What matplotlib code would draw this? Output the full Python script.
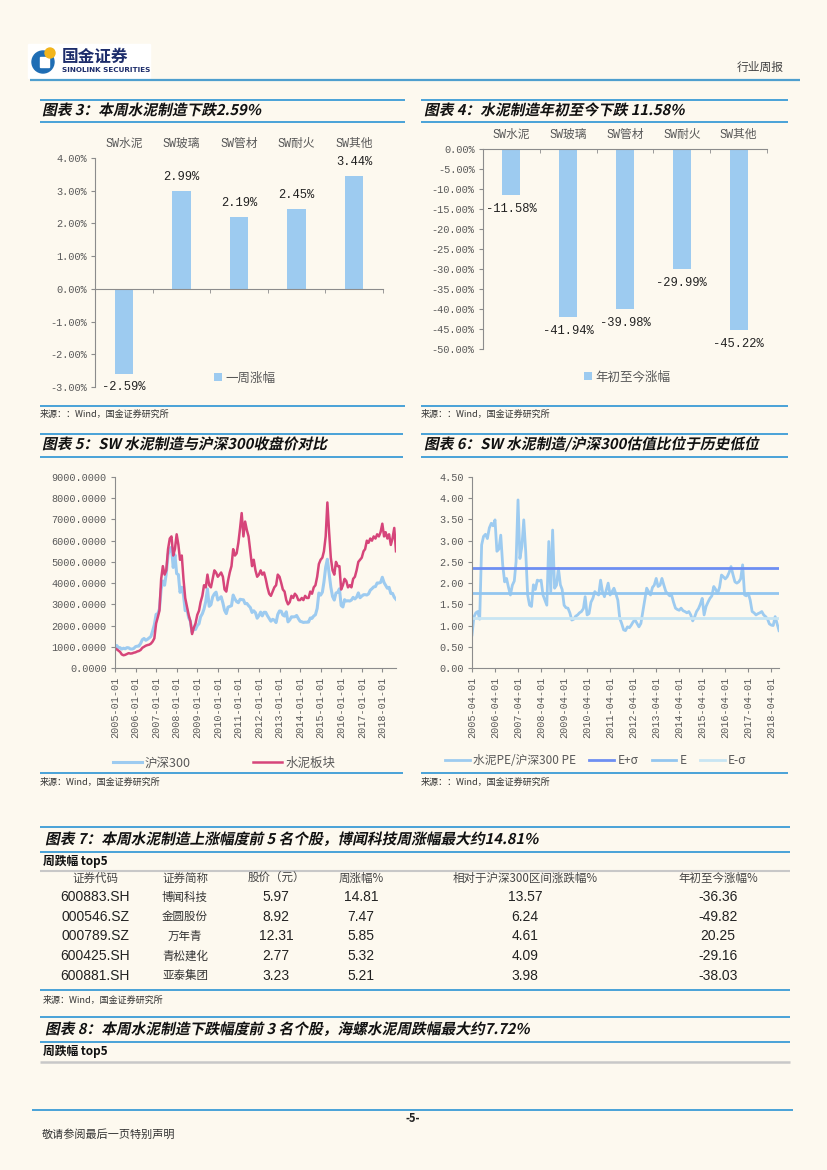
import numpy as np
import pandas as pd
import matplotlib
matplotlib.use('Agg')
import matplotlib.pyplot as plt
import matplotlib.dates as mdates
from matplotlib.ticker import FuncFormatter
from matplotlib.patches import Circle, Rectangle
from matplotlib.patheffects import AbstractPathEffect
from matplotlib.transforms import Affine2D

plt.rcParams['font.family'] = ['Noto Sans CJK SC', 'DejaVu Sans']
plt.rcParams['axes.unicode_minus'] = False

# ---------------- data ----------------
cats = ['SW水泥', 'SW玻璃', 'SW管材', 'SW耐火', 'SW其他']
week_chg = [-2.59, 2.99, 2.19, 2.45, 3.44]
ytd_chg = [-11.58, -41.94, -39.98, -29.99, -45.22]

# 沪深300 / 水泥板块 月度收盘 2005-01 ~ 2018-09
hs300 = [
    982, 1060, 966, 958, 890, 932, 905, 960, 950, 896, 891, 923,
    1007, 1028, 1035, 1156, 1333, 1392, 1305, 1354, 1422, 1486, 1752, 2041,
    2526, 2562, 2782, 3725, 4098, 3901, 4471, 5339, 5612, 5688, 4738, 5338,
    4449, 4399, 3565, 3803, 3447, 2701, 2772, 2374, 2202, 1673, 1869, 1817,
    1991, 2086, 2412, 2556, 2781, 3132, 3726, 2906, 2982, 3347, 3495, 3575,
    3204, 3281, 3359, 3068, 2715, 2564, 2868, 2903, 2936, 3436, 3254, 3128,
    3077, 3239, 3223, 3212, 3030, 3044, 2938, 2851, 2617, 2696, 2606, 2346,
    2464, 2634, 2455, 2626, 2623, 2462, 2333, 2205, 2294, 2254, 2140, 2523,
    2688, 2673, 2495, 2448, 2647, 2172, 2262, 2412, 2409, 2414, 2474, 2331,
    2202, 2178, 2146, 2158, 2157, 2165, 2355, 2339, 2450, 2508, 2808, 3533,
    3434, 3572, 4051, 4749, 5124, 4473, 3817, 3367, 3202, 3534, 3566, 3731,
    2946, 2877, 3218, 3156, 3169, 3154, 3203, 3327, 3253, 3336, 3538, 3310,
    3387, 3452, 3456, 3439, 3492, 3666, 3737, 3822, 3836, 4006, 4006, 4030,
    4275, 4023, 3899, 3756, 3802, 3510, 3517, 3335, 3238]
cement = [
    930, 880, 820, 760, 640, 600, 620, 660, 700, 680, 690, 720,
    740, 780, 800, 850, 950, 1000, 1050, 1080, 1100, 1150, 1250, 1400,
    2100, 2400, 2700, 4200, 4800, 4400, 4600, 5600, 6100, 6200, 5300, 5600,
    6300, 5800, 5100, 5300, 4200, 3300, 2900, 2500, 2200, 1600, 1900, 2100,
    2500, 2700, 3100, 3400, 3900, 3800, 4400, 3900, 3800, 4200, 4600, 4500,
    4300, 4400, 4500, 4300, 3700, 3600, 4100, 4500, 4800, 5600, 5300, 5400,
    5900, 6600, 7300, 6200, 6900, 6500, 6200, 5500, 4800, 5100, 4600, 4300,
    4400, 4600, 4400, 4500, 4200, 3800, 3500, 3400, 3600, 3800, 3900, 4400,
    4300, 4000, 3700, 3600, 3200, 3000, 3100, 3400, 3300, 3500, 3400, 3200,
    3200, 3300, 3200, 3400, 3300, 3300, 3600, 3500, 3800, 3900, 4300, 4900,
    5100, 5200, 5500, 6200, 7800, 6400, 5200, 4600, 4400, 5000, 4800, 4800,
    3700, 3900, 4200, 4100, 3800, 3900, 3800, 4200, 4300, 4600, 5000, 5100,
    5200, 5500, 5600, 6000, 5900, 6100, 6000, 6200, 6100, 6300, 6200, 6400,
    6800, 6200, 6400, 6100, 6300, 5800, 6100, 6600, 5500]

# 水泥PE/沪深300 PE 月度 2005-04 ~ 2018-08
pe_ratio = [
    0.78, 1.20, 1.30, 1.33, 1.15, 2.90, 3.10, 3.15, 3.05,
    3.30, 3.41, 3.35, 3.49, 2.75, 2.80, 3.13, 2.43, 2.03, 2.11, 1.90, 1.72,
    1.95, 2.05, 2.50, 3.96, 2.58, 2.86, 3.49, 2.74, 1.72, 1.48, 1.45, 1.96,
    1.85, 2.07, 2.05, 2.07, 1.72, 1.60, 1.48, 2.98, 1.80, 3.25, 1.88, 1.95,
    2.35, 1.96, 1.85, 1.48, 1.42, 1.41, 1.30, 1.13, 1.15, 1.22, 1.25, 1.30,
    1.33, 1.40, 1.68, 1.25, 1.28, 1.55, 1.64, 1.80, 1.75, 1.72, 2.07, 1.80,
    1.68, 1.85, 2.00, 1.72, 1.80, 1.88, 1.75, 1.60, 1.17, 1.05, 0.90, 0.88,
    0.97, 0.95, 1.01, 1.09, 1.13, 1.05, 0.97, 1.05, 1.33, 1.60, 1.88, 1.80,
    1.72, 1.90, 1.95, 2.11, 1.92, 1.95, 2.11, 1.95, 1.80, 1.75, 1.70, 1.72,
    1.55, 1.41, 1.38, 1.36, 1.41, 1.35, 1.33, 1.30, 1.33, 1.25, 1.11, 1.20,
    1.33, 1.40, 1.50, 1.64, 1.25, 1.45, 1.55, 1.64, 1.70, 1.92, 1.85, 1.76,
    1.90, 2.19, 2.15, 2.10, 2.15, 2.25, 2.39, 2.20, 2.03, 2.00, 2.03, 2.10,
    2.43, 1.72, 1.70, 1.76, 1.60, 1.33, 1.30, 1.25, 1.28, 1.30, 1.33, 1.25,
    1.21, 1.15, 1.04, 1.01, 1.00, 1.21, 1.05, 0.88]
pe_bands = [2.36, 1.77, 1.18]
pe_band_names = ['E+σ', 'E', 'E-σ']

tbl_head = ['证券代码', '证券简称', '股价（元）', '周涨幅%', '相对于沪深300区间涨跌幅%', '年初至今涨幅%']
codes = ['600883.SH', '000546.SZ', '000789.SZ', '600425.SH', '600881.SH']
names = ['博闻科技', '金圆股份', '万年青', '青松建化', '亚泰集团']
prices = [5.97, 8.92, 12.31, 2.77, 3.23]
wk_pct = [14.81, 7.47, 5.85, 5.32, 5.21]
rel_pct = [13.57, 6.24, 4.61, 4.09, 3.98]
ytd_pct = [-36.36, -49.82, 20.25, -29.16, -38.03]

# ---------------- style ----------------
W, H = 827, 1170
BG = '#fdf9ef'
LINE = '#3b9bd6'
BAR = '#9dcbf0'
RED = '#d6457a'
GREY = '#8c8c8c'
TXT = '#595959'
MONO = ['Liberation Mono', 'Noto Sans CJK SC']


class Slant(AbstractPathEffect):
    # 标题的斜体效果
    def __init__(self, deg=12):
        super().__init__()
        self.deg = deg

    def draw_path(self, renderer, gc, tpath, affine, rgbFace=None):
        renderer.draw_path(gc, tpath, Affine2D().skew_deg(self.deg, 0) + affine, rgbFace)


def box(l, t, r, b):
    return [l / W, 1 - b / H, (r - l) / W, (b - t) / H]


fig = plt.figure(figsize=(8.27, 11.7), dpi=100, facecolor=BG)
ov = fig.add_axes([0, 0, 1, 1])
ov.set_xlim(0, W)
ov.set_ylim(H, 0)
ov.axis('off')


def hline(y, x0, x1, c=LINE, lw=1.3):
    ov.plot([x0, x1], [y, y], color=c, lw=lw, solid_capstyle='butt')


def title(x, y, s):
    ov.text(x, y, s, fontsize=10.6, fontweight='bold', color='#111111', va='center',
            path_effects=[Slant(12)])


def source(x, y, s='来源：：Wind，国金证券研究所'):
    ov.text(x, y, s, fontsize=6.5, color='#333333', va='center')


# ---------------- header ----------------
ov.add_patch(Rectangle((28, 44), 122, 34, color='white', zorder=1))
ov.add_patch(Circle((43, 62), 11, color='#1e6db4', zorder=2))
ov.add_patch(Rectangle((40, 57), 9, 10, color='white', zorder=3))
ov.add_patch(Circle((50, 53), 5, color='#f2b51c', zorder=4))
ov.text(62, 57, '国金证券', fontsize=12, fontweight='bold', color='#1d2d6b', va='center', zorder=5)
ov.text(62, 70.5, 'SINOLINK SECURITIES', fontsize=5.2, fontweight='bold', color='#1d2d6b',
        va='center', family=['DejaVu Sans'], zorder=5)
ov.text(760, 67, '行业周报', fontsize=8.5, color='#444444', ha='center', va='center')
hline(80, 30, 800, c='#4f9fce', lw=1.6)

# ---------------- 图表3 / 图表4 ----------------
hline(100, 40, 405)
title(42, 110, '图表 3：本周水泥制造下跌2.59%')
hline(122, 40, 405)
hline(406, 40, 405)
source(40, 414)

hline(100, 421, 788)
title(424, 110, '图表 4：水泥制造年初至今下跌 11.58%')
hline(122, 421, 788)
hline(406, 421, 788)
source(421, 414)


def bar_axes(ax, vals, ylo, yhi, step, leg_label, leg_x, leg_y):
    x = np.arange(len(cats))
    bars = ax.bar(x, vals, width=0.32, color=BAR, zorder=2)
    ax.set_xlim(-0.5, len(cats) - 0.5)
    ax.set_ylim(ylo, yhi)
    ax.set_yticks(np.arange(ylo, yhi + step / 2, step))
    ax.yaxis.set_major_formatter(FuncFormatter(lambda v, p: f'{v:.2f}%'))
    ax.set_facecolor('none')
    for s in ['top', 'right']:
        ax.spines[s].set_visible(False)
    ax.spines['left'].set_color(GREY)
    ax.spines['bottom'].set_color(GREY)
    ax.spines['bottom'].set_position(('data', 0))
    ax.set_xticks(x)
    ax.set_xticklabels(cats)
    ax.set_xticks(np.arange(-0.5, len(cats), 1), minor=True)
    ax.tick_params(axis='x', which='major', bottom=False, top=False, labelbottom=False,
                   labeltop=True, length=0, pad=6, labelsize=8.5, labelcolor=TXT,
                   labelfontfamily=MONO)
    ax.tick_params(axis='x', which='minor', bottom=True, length=3, color=GREY)
    ax.tick_params(axis='y', length=3, color=GREY, pad=3, labelsize=7.4, labelcolor=TXT,
                   labelfontfamily=MONO)
    for i, v in enumerate(vals):
        ax.annotate(f'{v:.2f}%', (i, v), xytext=(0, 10 if v > 0 else -10),
                    textcoords='offset points', ha='center', va='center',
                    fontsize=8.7, family=MONO, color='#222222')
    ax.legend([bars], [leg_label], loc='center left', bbox_to_anchor=(leg_x / W, 1 - leg_y / H),
              bbox_transform=fig.transFigure, frameon=False, handlelength=0.6, handleheight=0.6,
              handletextpad=0.3, borderpad=0, borderaxespad=0, fontsize=9, labelcolor=TXT)


ax3 = fig.add_axes(box(95, 158, 383, 387))
bar_axes(ax3, week_chg, -3, 4, 1, '一周涨幅', 214, 378)
ax4 = fig.add_axes(box(483, 149, 767, 349))
bar_axes(ax4, ytd_chg, -50, 0, 5, '年初至今涨幅', 584, 377)

# ---------------- 图表5 ----------------
hline(434, 40, 403)
title(42, 444, '图表 5：SW 水泥制造与沪深300收盘价对比')
hline(457, 40, 403)
hline(773, 40, 403)
source(40, 782, '来源：Wind，国金证券研究所')

dates5 = pd.date_range('2005-01-01', periods=len(hs300), freq='MS')
ax5 = fig.add_axes(box(115, 477, 396, 668))
ax5.plot(dates5, hs300, color=BAR, lw=2.2, label='沪深300')
ax5.plot(dates5, cement, color=RED, lw=1.8, label='水泥板块')
ax5.set_xlim(dates5[0], dates5[-1])
ax5.set_ylim(0, 9000)
ax5.set_yticks(np.arange(0, 9001, 1000))
ax5.yaxis.set_major_formatter(FuncFormatter(lambda v, p: f'{v:.4f}'))
ax5.xaxis.set_major_locator(mdates.YearLocator(1, month=1, day=1))
ax5.xaxis.set_major_formatter(mdates.DateFormatter('%Y-%m-%d'))
ax5.legend(loc='center left', bbox_to_anchor=(113 / W, 1 - 763 / H), bbox_transform=fig.transFigure,
           ncol=2, frameon=False, fontsize=9, labelcolor=TXT, handlelength=2.3,
           handletextpad=0.25, columnspacing=5.0, borderpad=0, borderaxespad=0)

# ---------------- 图表6 ----------------
hline(434, 421, 788)
title(424, 444, '图表 6：SW 水泥制造/沪深300估值比位于历史低位')
hline(457, 421, 788)
hline(773, 421, 788)
source(421, 782)

dates6 = pd.date_range('2005-04-01', periods=len(pe_ratio), freq='MS')
ax6 = fig.add_axes(box(472, 477, 779, 668))
ax6.plot(dates6, pe_ratio, color=BAR, lw=2.0, label='水泥PE/沪深300 PE')
band_cols = ['#6e8ff2', '#93c6ef', '#c8e5f3']
for v, nm, c in zip(pe_bands, pe_band_names, band_cols):
    ax6.plot(dates6, [v] * len(dates6), color=c, lw=2.0, label=nm)
ax6.set_xlim(dates6[0], dates6[-1])
ax6.set_ylim(0, 4.5)
ax6.set_yticks(np.arange(0, 4.51, 0.5))
ax6.yaxis.set_major_formatter(FuncFormatter(lambda v, p: f'{v:.2f}'))
ax6.xaxis.set_major_locator(mdates.YearLocator(1, month=4, day=1))
ax6.xaxis.set_major_formatter(mdates.DateFormatter('%Y-%m-%d'))
ax6.legend(loc='center left', bbox_to_anchor=(445 / W, 1 - 761 / H), bbox_transform=fig.transFigure,
           ncol=4, frameon=False, fontsize=8.5, labelcolor=TXT, handlelength=2.1,
           handletextpad=0.3, columnspacing=1.1, borderpad=0, borderaxespad=0)

for ax in (ax5, ax6):
    ax.set_facecolor('none')
    for s in ['top', 'right']:
        ax.spines[s].set_visible(False)
    ax.spines['left'].set_color(GREY)
    ax.spines['bottom'].set_color(GREY)
    ax.tick_params(axis='both', length=3, color=GREY, pad=3, labelsize=7.3, labelcolor=TXT,
                   labelfontfamily=MONO)
    ax.tick_params(axis='x', labelrotation=90)

# ---------------- 图表7 表格 ----------------
hline(827, 40, 790)
title(45, 839, '图表 7：本周水泥制造上涨幅度前 5 名个股，博闻科技周涨幅最大约14.81%')
hline(852, 40, 790)
ov.text(43, 862, '周跌幅 top5', fontsize=8.5, fontweight='bold', color='#111111', va='center')
hline(871, 40, 790, c='#c8c8c8', lw=1.5)
col_x = [95, 185, 276, 361, 525, 718]
for cx, h in zip(col_x, tbl_head):
    ov.text(cx, 878, h, fontsize=8.3, color='#444444', ha='center', va='center')
NUM = ['Liberation Sans Narrow', 'Liberation Sans']
for i in range(len(codes)):
    y = 897 + 19.7 * i
    row = [codes[i], names[i], f'{prices[i]:.2f}', f'{wk_pct[i]:.2f}', f'{rel_pct[i]:.2f}',
           f'{ytd_pct[i]:.2f}']
    for j, (cx, s) in enumerate(zip(col_x, row)):
        if j == 1:
            ov.text(cx, y, s, fontsize=8.3, color='#333333', ha='center', va='center')
        else:
            ov.text(cx, y, s, fontsize=10, color='#222222', ha='center', va='center', family=NUM)
hline(990, 40, 790)
source(43, 1000, '来源：Wind，国金证券研究所')

# ---------------- 图表8 ----------------
hline(1017, 40, 790)
title(45, 1029, '图表 8：本周水泥制造下跌幅度前 3 名个股，海螺水泥周跌幅最大约7.72%')
hline(1042, 40, 790)
ov.text(43, 1052, '周跌幅 top5', fontsize=8.5, fontweight='bold', color='#111111', va='center')
hline(1062, 40, 790, c='#c8c8c8', lw=1.8)

# ---------------- footer ----------------
hline(1110, 32, 793)
ov.text(413, 1119, '-5-', fontsize=8, fontweight='bold', ha='center', va='center', color='#222222')
ov.text(42, 1135, '敬请参阅最后一页特别声明', fontsize=8, color='#333333', va='center')

fig.savefig('out.png', dpi=100, facecolor=BG)
